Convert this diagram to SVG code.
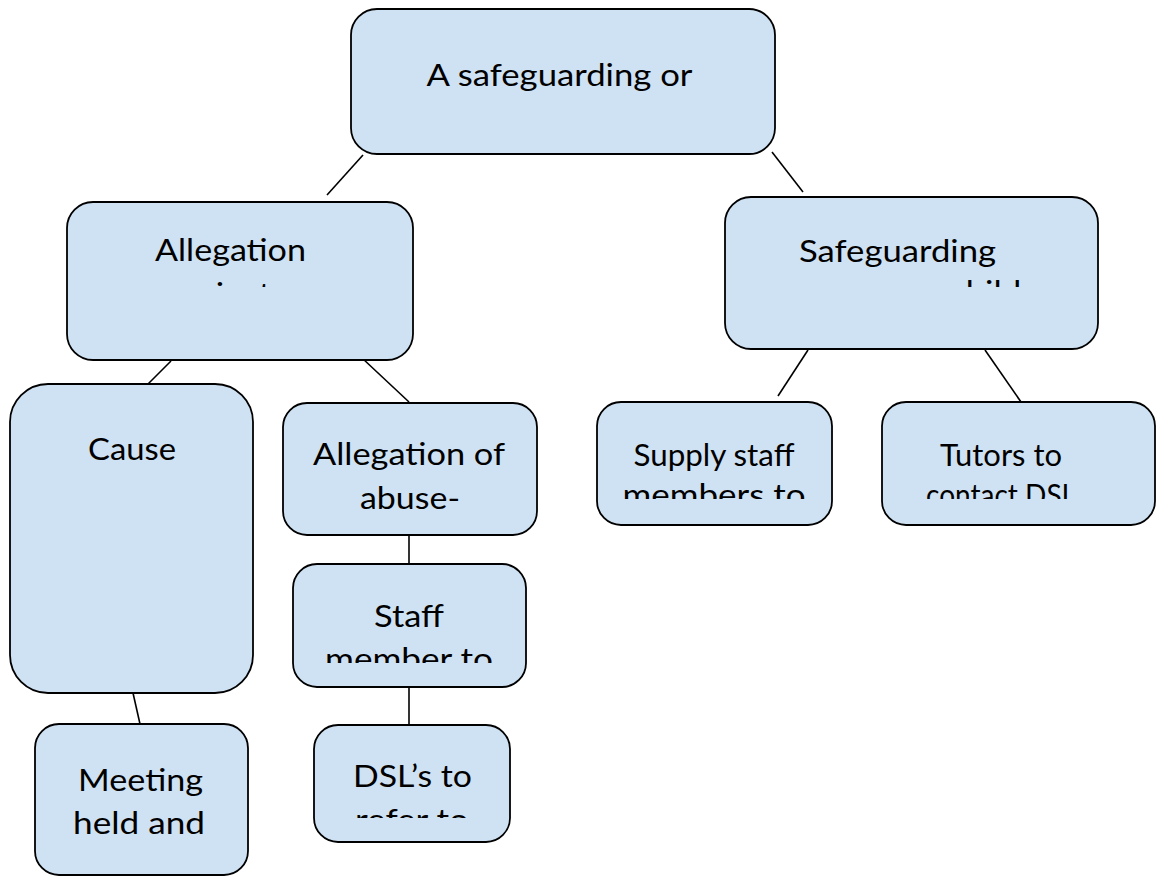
<svg xmlns="http://www.w3.org/2000/svg" width="1157" height="879" viewBox="0 0 1157 879">
<style>
.box{fill:#cfe2f3;stroke:#000;stroke-width:1.8}
.t{font-family:Lato,"Open Sans","Liberation Sans",sans-serif;font-size:30px;fill:#000;text-anchor:middle}
.c line{stroke:#000;stroke-width:1.6}
</style>
<defs>
<clipPath id="cp-alleg"><rect x="67" y="202" width="346" height="85"/></clipPath>
<clipPath id="cp-safe"><rect x="725" y="197" width="373" height="90"/></clipPath>
<clipPath id="cp-supply"><rect x="597" y="402" width="235" height="97"/></clipPath>
<clipPath id="cp-tutors"><rect x="882" y="402" width="273" height="97"/></clipPath>
<clipPath id="cp-staff"><rect x="293" y="564" width="233" height="99"/></clipPath>
<clipPath id="cp-dsl"><rect x="314" y="725" width="196" height="93"/></clipPath>
</defs>
<g class="c" id="connectors">
<line x1="363" y1="155" x2="327" y2="195"/>
<line x1="772" y1="152" x2="803" y2="192"/>
<line x1="171" y1="361" x2="147" y2="385"/>
<line x1="362" y1="358" x2="409" y2="402"/>
<line x1="808" y1="350" x2="778" y2="396"/>
<line x1="985" y1="350" x2="1021" y2="402"/>
<line x1="409" y1="535" x2="409" y2="564"/>
<line x1="409" y1="687" x2="409" y2="725"/>
<line x1="133" y1="693" x2="140" y2="724"/>
</g>
<g id="n-top">
<rect class="box" x="351" y="9" width="424" height="145" rx="26"/>
<text class="t" x="559.5" y="86" textLength="266" lengthAdjust="spacingAndGlyphs">A safeguarding or</text>
</g>
<g id="n-allegation">
<rect class="box" x="67" y="202" width="346" height="158" rx="26"/>
<g clip-path="url(#cp-alleg)">
<text class="t" x="230.5" y="261" textLength="151" lengthAdjust="spacingAndGlyphs">Allegation</text>
<text class="t" x="217" y="305" textLength="108" lengthAdjust="spacingAndGlyphs">against</text>
</g>
</g>
<g id="n-safeguarding">
<rect class="box" x="725" y="197" width="373" height="152" rx="26"/>
<g clip-path="url(#cp-safe)">
<text class="t" x="897.5" y="262" textLength="197" lengthAdjust="spacingAndGlyphs">Safeguarding</text>
<text class="t" x="1010" y="303" textLength="122" lengthAdjust="spacingAndGlyphs">children</text>
</g>
</g>
<g id="n-cause">
<rect class="box" x="10" y="384" width="243" height="309" rx="38"/>
<text class="t" x="132" y="460" textLength="88" lengthAdjust="spacingAndGlyphs">Cause</text>
</g>
<g id="n-abuse">
<rect class="box" x="283" y="403" width="254" height="132" rx="24"/>
<text class="t" x="409" y="465" textLength="192" lengthAdjust="spacingAndGlyphs">Allegation of</text>
<text class="t" x="410" y="509" textLength="100" lengthAdjust="spacingAndGlyphs">abuse-</text>
</g>
<g id="n-staff">
<rect class="box" x="293" y="564" width="233" height="123" rx="24"/>
<g clip-path="url(#cp-staff)">
<text class="t" x="409" y="627" textLength="70" lengthAdjust="spacingAndGlyphs">Staff</text>
<text class="t" x="409" y="670" textLength="168" lengthAdjust="spacingAndGlyphs">member to</text>
</g>
</g>
<g id="n-dsl">
<rect class="box" x="314" y="725" width="196" height="117" rx="24"/>
<g clip-path="url(#cp-dsl)">
<text class="t" x="412.5" y="787" textLength="119" lengthAdjust="spacingAndGlyphs">DSL’s to</text>
<text class="t" x="412" y="831" textLength="114" lengthAdjust="spacingAndGlyphs">refer to</text>
</g>
</g>
<g id="n-meeting">
<rect class="box" x="35" y="724" width="213" height="151" rx="24"/>
<text class="t" x="140.5" y="791" textLength="125" lengthAdjust="spacingAndGlyphs">Meeting</text>
<text class="t" x="139" y="834" textLength="132" lengthAdjust="spacingAndGlyphs">held and</text>
</g>
<g id="n-supply">
<rect class="box" x="597" y="402" width="235" height="123" rx="24"/>
<g clip-path="url(#cp-supply)">
<text class="t" x="714" y="466" textLength="161" lengthAdjust="spacingAndGlyphs">Supply staff</text>
<text class="t" x="714" y="506" textLength="183" lengthAdjust="spacingAndGlyphs">members to</text>
</g>
</g>
<g id="n-tutors">
<rect class="box" x="882" y="402" width="273" height="123" rx="24"/>
<g clip-path="url(#cp-tutors)">
<text class="t" x="1001" y="466" textLength="122" lengthAdjust="spacingAndGlyphs">Tutors to</text>
<text class="t" x="1001" y="506" textLength="150" lengthAdjust="spacingAndGlyphs">contact DSL</text>
</g>
</g>
</svg>
